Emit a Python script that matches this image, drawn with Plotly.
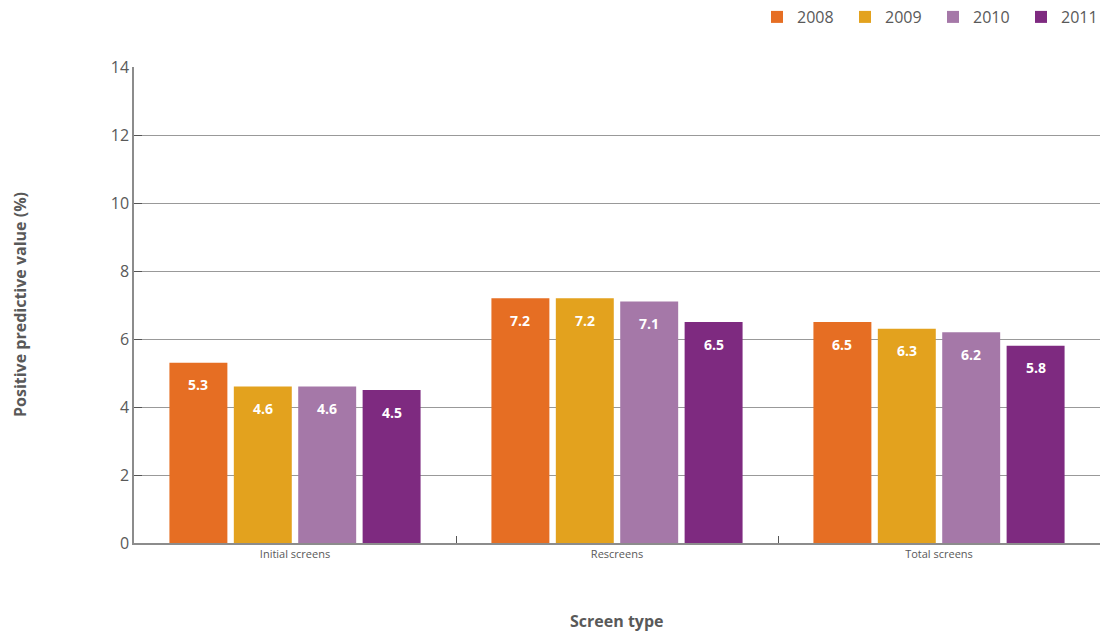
import plotly.graph_objects as go

categories = ["Initial screens", "Rescreens", "Total screens"]
years = ["2008", "2009", "2010", "2011"]
values_2008 = [5.3, 7.2, 6.5]
values_2009 = [4.6, 7.2, 6.3]
values_2010 = [4.6, 7.1, 6.2]
values_2011 = [4.5, 6.5, 5.8]
series = [values_2008, values_2009, values_2010, values_2011]
colors = ["#E66E23", "#E3A21E", "#A578A8", "#7E2A80"]

font_family = "Open Sans, Noto Sans, sans-serif"
gray = "#595959"

W, H = 1109, 632
ML, MR, MT, MB = 134, 9, 67, 89
BARGAP, BARGROUPGAP = 0.2, 0.1
plot_w = W - ML - MR
slot_px = plot_w / len(categories) * (1 - BARGAP) / len(years)

fig = go.Figure()
annotations = []
for i, (name, vals, col) in enumerate(zip(years, series, colors)):
    fig.add_trace(go.Bar(
        x=categories, y=vals, name=name,
        marker=dict(color=col, line=dict(width=0)),
        hoverinfo="skip",
    ))
    for c, v in zip(categories, vals):
        annotations.append(dict(
            x=c, y=v, xref="x", yref="y", text=f"<b>{v:.1f}</b>",
            showarrow=False, xanchor="center", yanchor="middle",
            xshift=(i - (len(years) - 1) / 2) * slot_px, yshift=-22,
            font=dict(color="white", size=14, family="Open Sans, sans-serif"),
        ))

annotations += [
    dict(text="<b>Screen type</b>", xref="paper", yref="paper", x=0.5, y=0,
         yshift=-78, yanchor="middle", xanchor="center", showarrow=False,
         font=dict(size=16, color=gray)),
    dict(text="<b>Positive predictive value (%)</b>", xref="paper", yref="paper",
         x=0, y=0.5, xshift=-114, xanchor="center", yanchor="middle",
         textangle=-90, showarrow=False, font=dict(size=16, color=gray)),
]

fig.update_layout(
    width=W, height=H,
    margin=dict(l=ML, r=MR, t=MT, b=MB),
    plot_bgcolor="white", paper_bgcolor="white",
    barmode="group", bargap=BARGAP, bargroupgap=BARGROUPGAP,
    font=dict(family=font_family, color=gray),
    legend=dict(orientation="h", x=1 + 13 / plot_w, xanchor="right", y=1.0, yanchor="top",
                yref="container", font=dict(size=16, color=gray),
                entrywidth=43, entrywidthmode="pixels", traceorder="normal"),
    xaxis=dict(
        showline=True, linecolor="#8c8c8c", linewidth=1.5,
        ticks="inside", tickson="boundaries", ticklen=7, tickcolor="#555",
        tickfont=dict(size=11, color=gray), automargin=False,
    ),
    yaxis=dict(
        range=[0, 14], dtick=2, showline=True, linecolor="#8c8c8c", linewidth=1.5,
        showgrid=True, gridcolor="#999999", gridwidth=1,
        ticks="inside", ticklen=8, tickcolor="#555",
        tickfont=dict(size=16, color=gray), zeroline=False, automargin=False,
    ),
    annotations=annotations,
)

fig.write_html("out.html", config={"displayModeBar": False},
               post_script="document.body.style.margin='0';")
